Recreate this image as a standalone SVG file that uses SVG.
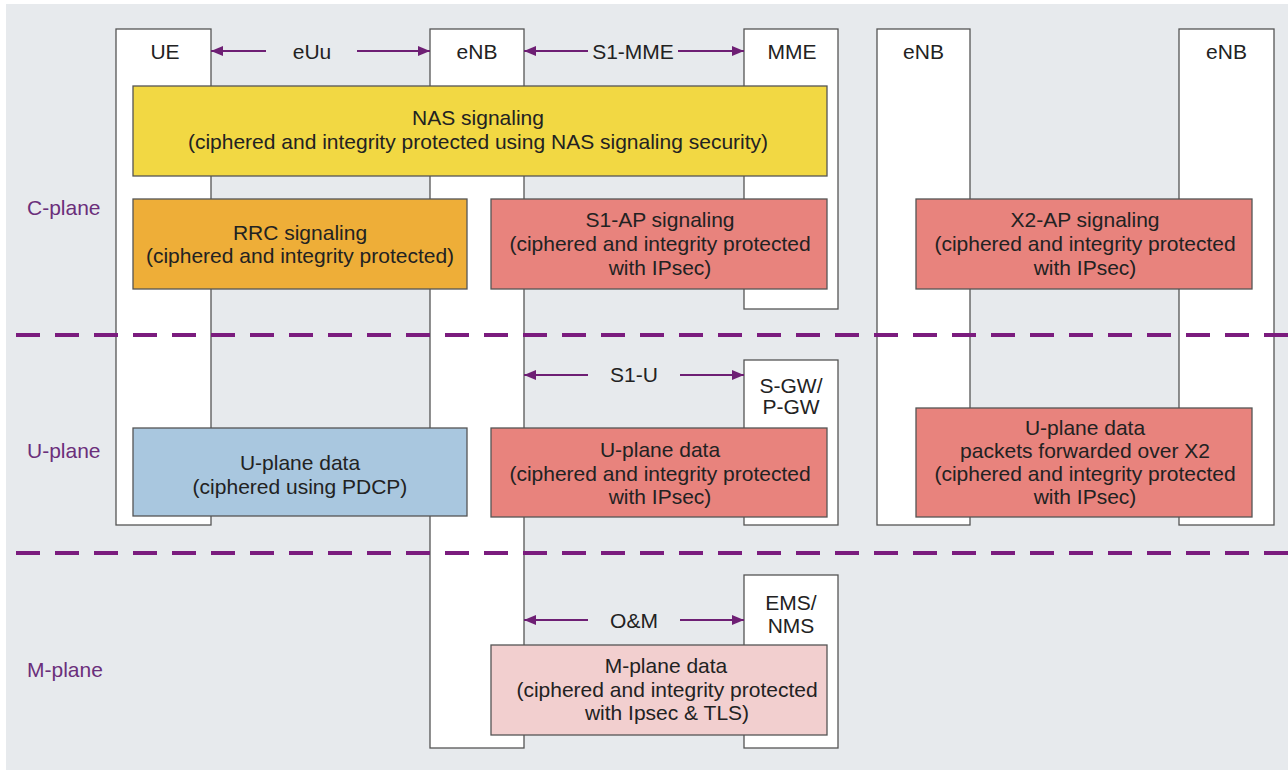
<svg xmlns="http://www.w3.org/2000/svg" width="1288" height="770" viewBox="0 0 1288 770">
  <defs>
    <marker id="ah" viewBox="0 0 12 10" refX="12" refY="5" markerWidth="12" markerHeight="10" markerUnits="userSpaceOnUse" orient="auto-start-reverse">
      <path d="M0,0 L12,5 L0,10 z" fill="#6e1f74"/>
    </marker>
    <style>
      text { font-family: "Liberation Sans", Arial, sans-serif; font-size: 21px; fill: #222; text-anchor: middle; }
      .life { fill: #fff; stroke: #555; stroke-width: 1.3; }
      .box { stroke: #555; stroke-width: 1.3; }
      .nas { fill: #f2d843; }
      .rrc { fill: #eeae38; }
      .red { fill: #e8837d; }
      .blue { fill: #a9c7df; }
      .pink { fill: #f2cfcf; }
      .plane { fill: #6b2f7b; text-anchor: start; }
      .sep { stroke: #7b1c7e; stroke-width: 4; stroke-dasharray: 24 15; fill: none; }
      .conn { stroke: #6e1f74; stroke-width: 2.2; fill: none; }
    </style>
  </defs>

  <!-- canvas -->
  <rect x="6" y="4" width="1282" height="766" fill="#e7eaed"/>

  <!-- network element lifelines -->
  <g id="ue"><rect class="life" x="116" y="29" width="95" height="496"/><text x="165" y="58.5">UE</text></g>
  <g id="enb"><rect class="life" x="430" y="29" width="94" height="719"/><text x="477" y="58.5">eNB</text></g>
  <g id="mme"><rect class="life" x="744" y="29" width="94" height="280"/><text x="792" y="58.5">MME</text></g>
  <g id="enb-a"><rect class="life" x="877" y="29" width="93" height="496"/><text x="923.5" y="58.5">eNB</text></g>
  <g id="enb-b"><rect class="life" x="1179" y="29" width="95" height="496"/><text x="1226.5" y="58.5">eNB</text></g>
  <g id="sgw"><rect class="life" x="744" y="360" width="94" height="165"/><text x="791" y="392.5">S-GW/</text><text x="791" y="413.5">P-GW</text></g>
  <g id="ems"><rect class="life" x="744" y="575" width="94" height="173"/><text x="791" y="609.5">EMS/</text><text x="791" y="632.5">NMS</text></g>

  <!-- plane separators -->
  <g id="separators">
    <line class="sep" x1="16" y1="335" x2="1288" y2="335"/>
    <line class="sep" x1="16" y1="553" x2="1288" y2="553"/>
  </g>

  <!-- plane labels -->
  <g id="labels">
    <text class="plane" x="27" y="214.5">C-plane</text>
    <text class="plane" x="27" y="457.5">U-plane</text>
    <text class="plane" x="27" y="676.5">M-plane</text>
  </g>

  <!-- interface connectors -->
  <g id="connectors">
    <line class="conn" x1="266" y1="51" x2="211" y2="51" marker-end="url(#ah)"/>
    <line class="conn" x1="357" y1="51" x2="430" y2="51" marker-end="url(#ah)"/>
    <text x="312" y="58.5">eUu</text>
    <line class="conn" x1="588" y1="51" x2="524" y2="51" marker-end="url(#ah)"/>
    <line class="conn" x1="678" y1="51" x2="744" y2="51" marker-end="url(#ah)"/>
    <text x="633" y="58.5">S1-MME</text>
    <line class="conn" x1="588" y1="375" x2="524" y2="375" marker-end="url(#ah)"/>
    <line class="conn" x1="680" y1="375" x2="744" y2="375" marker-end="url(#ah)"/>
    <text x="634" y="381.5">S1-U</text>
    <line class="conn" x1="588" y1="620" x2="524" y2="620" marker-end="url(#ah)"/>
    <line class="conn" x1="680" y1="620" x2="744" y2="620" marker-end="url(#ah)"/>
    <text x="634" y="627.5">O&amp;M</text>
  </g>

  <!-- protected flows -->
  <g id="nas">
    <rect class="box nas" x="133" y="86" width="694" height="90"/>
    <text x="478" y="124.5">NAS signaling</text>
    <text x="478" y="148.5">(ciphered and integrity protected using NAS signaling security)</text>
  </g>
  <g id="rrc">
    <rect class="box rrc" x="133" y="199" width="334" height="90"/>
    <text x="300" y="239.5">RRC signaling</text>
    <text x="300" y="262.5">(ciphered and integrity protected)</text>
  </g>
  <g id="s1ap">
    <rect class="box red" x="491" y="199" width="336" height="90"/>
    <text x="660" y="226.5">S1-AP signaling</text>
    <text x="660" y="250.5">(ciphered and integrity protected</text>
    <text x="660" y="274.5">with IPsec)</text>
  </g>
  <g id="x2ap">
    <rect class="box red" x="916" y="199" width="336" height="90"/>
    <text x="1085" y="226.5">X2-AP signaling</text>
    <text x="1085" y="250.5">(ciphered and integrity protected</text>
    <text x="1085" y="274.5">with IPsec)</text>
  </g>
  <g id="uplane-pdcp">
    <rect class="box blue" x="133" y="428" width="334" height="88"/>
    <text x="300" y="469.5">U-plane data</text>
    <text x="300" y="493.5">(ciphered using PDCP)</text>
  </g>
  <g id="uplane-s1">
    <rect class="box red" x="491" y="428" width="336" height="89"/>
    <text x="660" y="456.5">U-plane data</text>
    <text x="660" y="480.5">(ciphered and integrity protected</text>
    <text x="660" y="503.5">with IPsec)</text>
  </g>
  <g id="uplane-x2">
    <rect class="box red" x="916" y="408" width="336" height="109"/>
    <text x="1085" y="434.5">U-plane data</text>
    <text x="1085" y="457.5">packets forwarded over X2</text>
    <text x="1085" y="480.5">(ciphered and integrity protected</text>
    <text x="1085" y="503.5">with IPsec)</text>
  </g>
  <g id="mplane">
    <rect class="box pink" x="491" y="645" width="336" height="90"/>
    <text x="666" y="672.5">M-plane data</text>
    <text x="667" y="696.5">(ciphered and integrity protected</text>
    <text x="667" y="719.5">with Ipsec &amp; TLS)</text>
  </g>
</svg>
